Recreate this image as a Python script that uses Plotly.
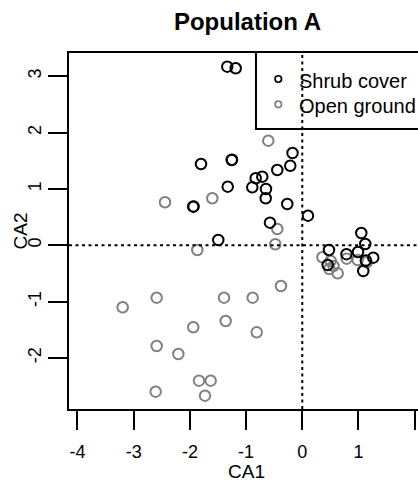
import plotly.graph_objects as go

# Correspondence analysis site scores (CA1, CA2) for the two microhabitats
shrub_ca1 = [-1.335, -1.185, -0.174, -1.802, -1.256, -1.250, -0.214, -0.445,
             -0.829, -0.712, -1.327, -0.890, -0.646, -0.651, -0.267, 0.101,
             -0.575, -1.495, -1.940, -1.935,
             1.050, 1.121, 0.475, 0.786, 0.991, 1.263, 1.130, 0.452, 1.085]
shrub_ca2 = [3.169, 3.141, 1.638, 1.443, 1.514, 1.520, 1.412, 1.336,
             1.189, 1.217, 1.040, 1.029, 0.999, 0.834, 0.733, 0.525,
             0.401, 0.094, 0.685, 0.690,
             0.218, 0.023, -0.083, -0.158, -0.119, -0.220, -0.270, -0.350, -0.456]

open_ca1 = [-0.605, -2.443, -1.601, -0.445, -0.480, -1.868, -0.379, -2.591,
            -1.393, -0.883, -3.196, -1.940, -1.363, -0.811, -2.591, -2.206,
            -1.838, -1.630, -2.609, -1.731,
            0.359, 0.505, 0.480, 0.630, 0.555, 0.790, 0.986, 1.146]
open_ca2 = [1.856, 0.763, 0.834, 0.289, 0.018, -0.083, -0.722, -0.930,
            -0.930, -0.930, -1.100, -1.455, -1.343, -1.544, -1.787, -1.929,
            -2.402, -2.402, -2.598, -2.669,
            -0.213, -0.279, -0.421, -0.497, -0.367, -0.238, -0.261, -0.302]

group_names = ["Shrub cover", "Open ground"]
group_colors = ["#000000", "#808080"]

x_ticks = [-4, -3, -2, -1, 0, 1, 2]
x_tick_text = ["-4", "-3", "-2", "-1", "0", "1", "2"]
y_ticks = [-2, -1, 0, 1, 2, 3]
y_tick_text = ["-2", "-1", "0", "1", "2", "3"]

x_range = [-4.151, 2.059]
y_range = [-2.905, 3.412]

FONT = "Liberation Sans, Arial, Helvetica, sans-serif"

fig = go.Figure()

# open ground first so shrub sites sit on top where they overlap
for xs, ys, col in [(open_ca1, open_ca2, group_colors[1]),
                    (shrub_ca1, shrub_ca2, group_colors[0])]:
    fig.add_trace(go.Scatter(
        x=xs, y=ys, mode="markers",
        marker=dict(symbol="circle-open", size=10.5, color=col,
                    line=dict(color=col, width=2)),
        showlegend=False, hoverinfo="skip", cliponaxis=True))

# legend box (top right, running off the right edge)
leg_left, leg_bottom = -0.824, 2.064
leg_sym_x, leg_text_x = -0.427, -0.10
leg_rows = [2.951, 2.502]

fig.add_shape(type="rect", xref="x", yref="y",
              x0=leg_left, x1=3.0, y0=leg_bottom, y1=4.0,
              line=dict(color="black", width=2), fillcolor="rgba(0,0,0,0)",
              layer="above")

for name, col, ry in zip(group_names, group_colors, leg_rows):
    fig.add_trace(go.Scatter(
        x=[leg_sym_x], y=[ry], mode="markers",
        marker=dict(symbol="circle-open", size=6.5, color=col,
                    line=dict(color=col, width=1.7)),
        showlegend=False, hoverinfo="skip"))
    fig.add_annotation(x=leg_text_x, y=ry, xref="x", yref="y",
                       text=name, showarrow=False, xanchor="left",
                       yanchor="middle", yshift=-2,
                       font=dict(family=FONT, size=20, color="black"))

# dotted reference lines through the origin
dot = dict(color="black", width=2, dash="3px,3.5px")
fig.add_shape(type="line", xref="x", yref="paper", x0=0, x1=0, y0=0, y1=1,
              line=dot, layer="above")
fig.add_shape(type="line", xref="paper", yref="y", x0=0, x1=1, y0=0, y1=0,
              line=dot, layer="above")

# axis titles
fig.add_annotation(text="CA1", xref="paper", yref="paper", x=0.509, y=0,
                   yshift=-62, showarrow=False, yanchor="middle",
                   font=dict(family=FONT, size=19, color="black"))
fig.add_annotation(text="CA2", xref="paper", yref="paper", x=0, y=0.5,
                   xshift=-49.5, showarrow=False, xanchor="center",
                   textangle=-90,
                   font=dict(family=FONT, size=19, color="black"))

fig.update_layout(
    width=418, height=481,
    margin=dict(l=69, r=0, t=53, b=72),
    paper_bgcolor="white", plot_bgcolor="white",
    font=dict(family=FONT, size=19, color="black"),
    title=dict(text="<b>Population A</b>", xref="container", x=0.592,
               xanchor="center", yref="container", y=1 - 22 / 481,
               yanchor="middle",
               font=dict(family=FONT, size=24, color="black")),
    xaxis=dict(range=x_range, tickvals=x_ticks, ticktext=x_tick_text,
               showgrid=False, zeroline=False, showline=True,
               linecolor="black", linewidth=2, mirror=True,
               ticks="outside", ticklen=19, tickwidth=2, tickcolor="black",
               ticklabelstandoff=6,
               tickfont=dict(family=FONT, size=18, color="black")),
    yaxis=dict(range=y_range, tickvals=y_ticks, ticktext=y_tick_text,
               showgrid=False, zeroline=False, showline=True,
               linecolor="black", linewidth=2, mirror=False,
               ticks="outside", ticklen=19, tickwidth=2, tickcolor="black",
               tickangle=-90, ticklabelstandoff=0,
               tickfont=dict(family=FONT, size=18, color="black")),
)

fig.write_html("out.html")
